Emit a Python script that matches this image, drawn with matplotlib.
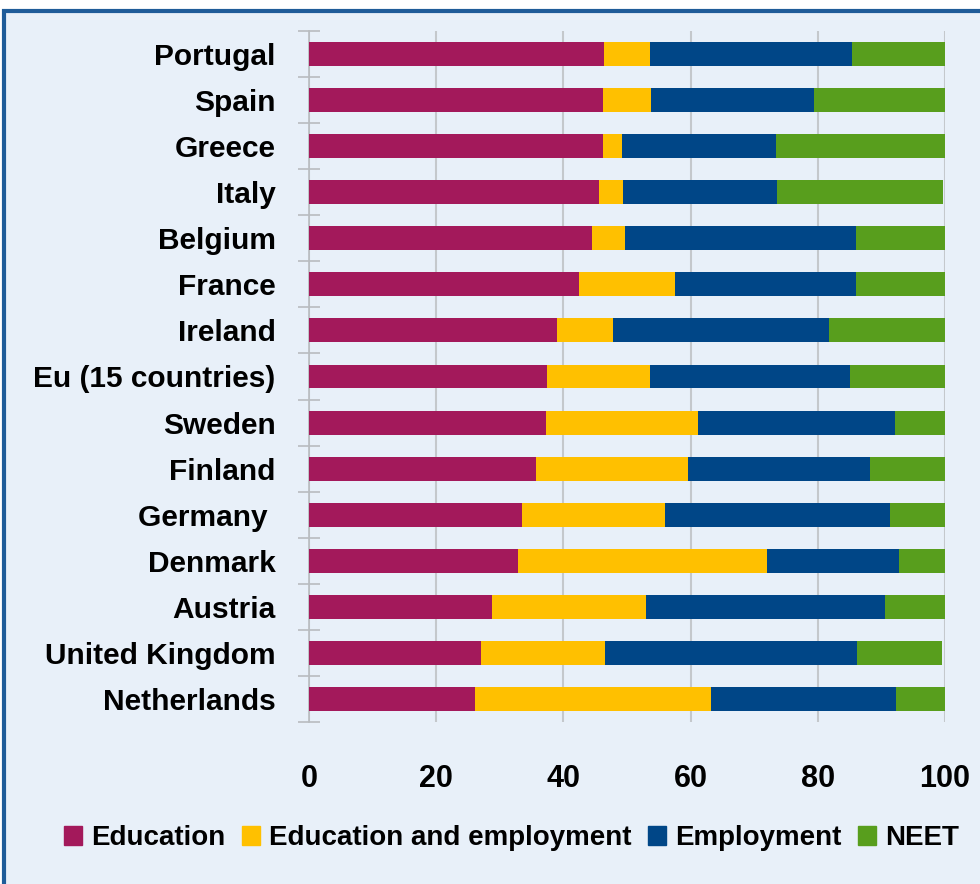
import matplotlib.pyplot as plt
import matplotlib.patches as mpatches
import numpy as np

countries = ["Portugal", "Spain", "Greece", "Italy", "Belgium", "France", "Ireland",
             "Eu (15 countries)", "Sweden", "Finland", "Germany ", "Denmark", "Austria",
             "United Kingdom", "Netherlands"]
education = [46.4, 46.2, 46.2, 45.6, 44.5, 42.5, 39.0, 37.4, 37.3, 35.7, 33.5, 32.9, 28.8, 27.0, 26.1]
edu_employment = [7.2, 7.6, 3.0, 3.8, 5.2, 15.0, 8.8, 16.2, 23.9, 23.9, 22.5, 39.1, 24.2, 19.5, 37.1]
employment = [31.8, 25.6, 24.2, 24.2, 36.3, 28.5, 34.0, 31.5, 30.9, 28.6, 35.4, 20.8, 37.6, 39.7, 29.1]
neet = [14.6, 20.6, 26.6, 26.1, 14.0, 14.0, 18.2, 14.9, 7.9, 11.8, 8.6, 7.2, 9.4, 13.3, 7.7]
series_names = ["Education", "Education and employment", "Employment", "NEET"]
colors = ["#A3195B", "#FFC000", "#004687", "#589E1D"]

bg = "#E8F0F9"
font = ["Liberation Sans", "DejaVu Sans"]

fig = plt.figure(figsize=(9.8, 8.84), dpi=100)
fig.patch.set_facecolor("white")
# light blue panel with a dark blue border, cut off at right and bottom
frame = mpatches.Rectangle((4 / 980, -0.02), 1.02, 1 - 11 / 884 + 0.02, transform=fig.transFigure,
                           facecolor=bg, edgecolor="#1F5C99", linewidth=3, zorder=-10)
fig.patches.append(frame)

ax = fig.add_axes([309 / 980, 1 - 722 / 884, 636 / 980, 691 / 884])
ax.set_facecolor(bg)

y = np.arange(len(countries))
left = np.zeros(len(countries))
for vals, name, col in zip([education, edu_employment, employment, neet], series_names, colors):
    ax.barh(y, vals, left=left, height=0.52, color=col, label=name, zorder=3)
    left = left + np.array(vals)

ax.set_xlim(0, 100)
ax.set_ylim(len(countries) - 0.5, -0.5)
ax.set_xticks([0, 20, 40, 60, 80, 100])
ax.xaxis.grid(True, color="#C4C8CC", linewidth=1.5, zorder=1)
ax.set_axisbelow(True)
ax.set_yticks(y)
ax.set_yticklabels(countries)
ax.set_yticks(np.arange(-0.5, len(countries)), minor=True)
ax.tick_params(axis="y", which="major", length=0, pad=24)
ax.tick_params(axis="y", which="minor", length=16, direction="inout", color="#B8BCC0", width=1.2)
ax.tick_params(axis="x", length=0, pad=30)
for lab in ax.get_yticklabels():
    lab.set_fontfamily(font)
    lab.set_fontweight("bold")
    lab.set_fontsize(21.5)
for lab in ax.get_xticklabels():
    lab.set_fontfamily(font)
    lab.set_fontweight("bold")
    lab.set_fontsize(22)

for s in ["top", "right", "bottom"]:
    ax.spines[s].set_visible(False)
ax.spines["left"].set_color("#B8BCC0")
ax.spines["left"].set_linewidth(1.2)

handles = [mpatches.Patch(color=c, label=n) for c, n in zip(colors, series_names)]
fig.legend(handles=handles, loc="center", bbox_to_anchor=(0.522, 1 - 838 / 884), ncol=4,
           frameon=False, handlelength=0.65, handleheight=0.65, handletextpad=0.32,
           columnspacing=0.6, prop={"family": font, "weight": "bold", "size": 20})

fig.savefig("out.png", dpi=100, facecolor=fig.get_facecolor())
